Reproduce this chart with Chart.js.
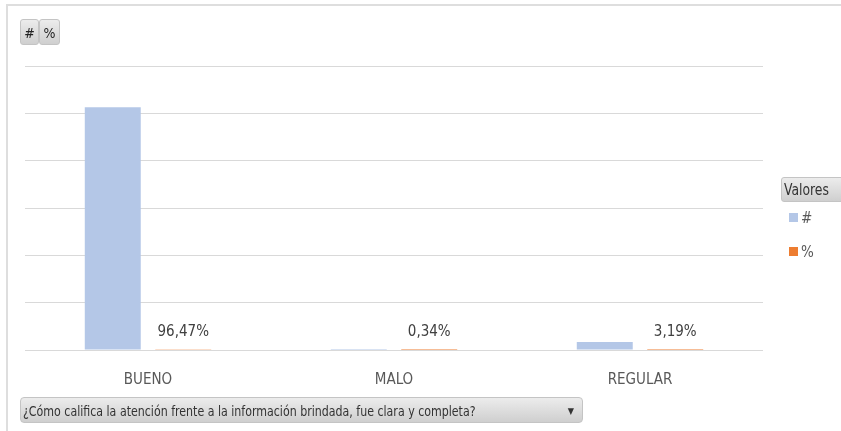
<!DOCTYPE html>
<html>
<head>
<meta charset="utf-8">
<script src="https://cdn.jsdelivr.net/npm/chart.js@4.4.0/dist/chart.umd.min.js"></script>
<style>
    body { margin: 0; background: #fff; font-family: 'DejaVu Sans Condensed', 'Noto Sans', sans-serif; }
    #wrap { position: relative; width: 841px; height: 431px; overflow: hidden; }
    #frame { position: absolute; left: 6px; top: 4px; width: 900px; height: 500px; border: 2px solid #dedede; }
    #chartBox { position: absolute; left: 0; top: 0; width: 841px; height: 431px; }
    .btn {
        position: absolute; height: 25px; border: 1px solid #c4c4c4; border-radius: 3px;
        background: linear-gradient(#ececec, #cfcfcf); color: #222; font-size: 14px;
        line-height: 25px; text-align: center; box-sizing: border-box;
    }
    .legend-item { position: absolute; font-size: 15px; color: #595959; }
    .legend-item span { display: inline-block; width: 9px; height: 9px; margin-right: 3px; vertical-align: 1px; }
</style>
</head>
<body>
<div id="wrap">
    <div id="frame"></div>
    <div id="chartBox"><canvas id="pivotChart"></canvas></div>
    <div class="btn" style="left:20px; top:19px; width:19px; height:26px; line-height:26px;">#</div>
    <div class="btn" style="left:39px; top:19px; width:21px; height:26px; line-height:26px;">%</div>
    <div class="btn" style="left:781px; top:177px; width:70px; text-align:left; padding-left:2px; color:#333; font-size:15px;"><span style="display:inline-block; transform:scaleX(0.92); transform-origin:left;">Valores</span></div>
    <div class="legend-item" style="left:789px; top:209px;"><span style="background:#b4c7e7"></span>#</div>
    <div class="legend-item" style="left:789px; top:243px;"><span style="background:#ed7d31"></span>%</div>
    <div class="btn" style="left:20px; top:397px; width:563px; height:26px; line-height:26px; text-align:left; padding-left:2px; font-size:14px; color:#333; border-radius:4px;"><span style="display:inline-block; transform:scaleX(0.876); transform-origin:left;">¿Cómo califica la atención frente a la información brindada, fue clara y completa?</span><span style="position:absolute; right:8px; top:0; font-size:9px;">&#9660;</span></div>
</div>
<script>
// Datos del gráfico
const categorias = ['BUENO', 'MALO', 'REGULAR'];
const cantidades = [1026, 4, 34];
const porcentajes = [0.9647, 0.0034, 0.0319];
const ticksY = [0, 200, 400, 600, 800, 1000, 1200];

const fuente = "'DejaVu Sans Condensed', 'Noto Sans', sans-serif";

// Etiquetas de porcentaje sobre las barras naranjas
const etiquetasPct = {
    id: 'etiquetasPct',
    afterDatasetsDraw(chart) {
        const ctx = chart.ctx;
        const meta = chart.getDatasetMeta(1);
        ctx.save();
        ctx.font = '15px ' + fuente;
        ctx.fillStyle = '#404040';
        ctx.textAlign = 'center';
        ctx.textBaseline = 'bottom';
        meta.data.forEach((bar, i) => {
            const txt = (porcentajes[i] * 100).toFixed(2).replace('.', ',') + '%';
            ctx.fillText(txt, bar.x, bar.y - 10);
        });
        ctx.restore();
    }
};

document.addEventListener('DOMContentLoaded', function() {
    const ctx = document.getElementById('pivotChart').getContext('2d');
    new Chart(ctx, {
        type: 'bar',
        data: {
            labels: categorias,
            datasets: [
                {
                    label: '#',
                    data: cantidades,
                    backgroundColor: '#b4c7e7',
                    barPercentage: 0.794,
                    categoryPercentage: 0.573
                },
                {
                    label: '%',
                    data: porcentajes,
                    backgroundColor: '#ed7d31',
                    barPercentage: 0.794,
                    categoryPercentage: 0.573
                }
            ]
        },
        options: {
            responsive: true,
            maintainAspectRatio: false,
            animation: false,
            layout: { padding: { left: 25, right: 78, top: 66, bottom: 0 } },
            scales: {
                x: {
                    grid: { display: false },
                    border: { display: false },
                    ticks: { color: '#595959', font: { family: fuente, size: 15 }, padding: 13 },
                    afterFit: s => { s.height = 81; }
                },
                y: {
                    min: 0,
                    max: ticksY[ticksY.length - 1],
                    afterBuildTicks: s => { s.ticks = ticksY.map(v => ({ value: v })); },
                    ticks: { display: false },
                    grid: { color: '#d9d9d9', drawTicks: false },
                    border: { display: false },
                    afterFit: s => { s.width = 0; }
                }
            },
            plugins: {
                legend: { display: false },
                tooltip: { enabled: false }
            }
        },
        plugins: [etiquetasPct]
    });
});
</script>
</body>
</html>
